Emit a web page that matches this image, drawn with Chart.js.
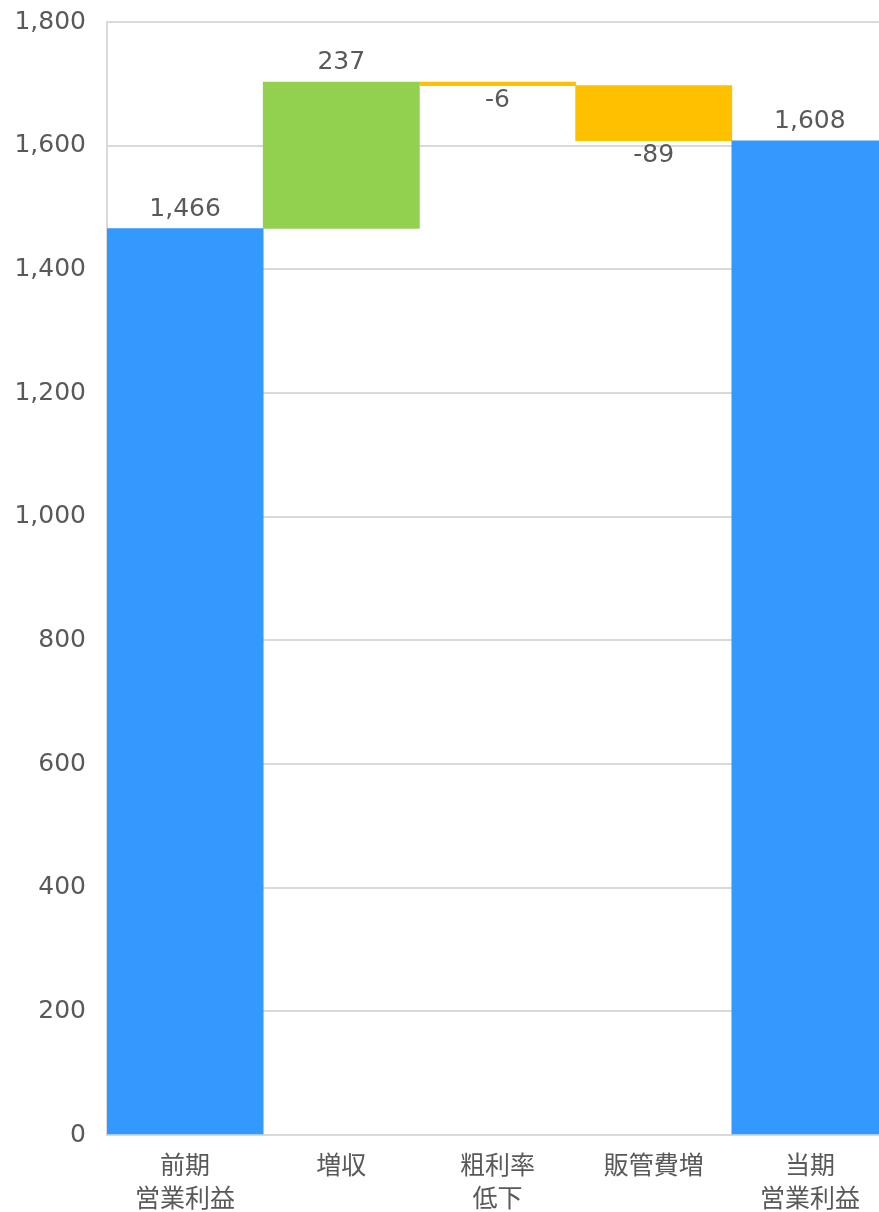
<!DOCTYPE html>
<html>
<head>
<meta charset="utf-8">
<script src="https://cdn.jsdelivr.net/npm/chart.js@4"></script>
<style>
  html, body { margin: 0; padding: 0; background: #fff; overflow: hidden; }
  /* plot area runs a little past the right edge of the window, as in the reference */
  #wrap { width: 888px; height: 1212px; }
</style>
</head>
<body>
<div id="wrap"><canvas id="waterfall"></canvas></div>
<script>
// Chart data
const categories = [['前期', '営業利益'], ['増収'], ['粗利率', '低下'], ['販管費増'], ['当期', '営業利益']];
const values = [1466, 237, -6, -89, 1608];
const kinds = ['total', 'delta', 'delta', 'delta', 'total'];
const yTicks = [0, 200, 400, 600, 800, 1000, 1200, 1400, 1600, 1800];

const COLOR_TOTAL = '#3399FF';
const COLOR_UP = '#92D050';
const COLOR_DOWN = '#FFC000';
const TEXT = '#595959';
const GRID = '#D9D9D9';
const LATIN = 'Verdana, "DejaVu Sans", sans-serif';
const CJK = '"Noto Sans CJK JP", sans-serif';

// Build floating bars from the running total
function buildBars() {
    let running = 0;
    return values.map((v, i) => {
        if (kinds[i] === 'total') {
            running = v;
            return [0, v];
        }
        const start = running;
        running += v;
        return [start, running];
    });
}

function barColor(i) {
    if (kinds[i] === 'total') return COLOR_TOTAL;
    return values[i] >= 0 ? COLOR_UP : COLOR_DOWN;
}

// Value labels above (up / totals) or below (down) each bar
const valueLabels = {
    id: 'valueLabels',
    afterDatasetsDraw(chart) {
        const ctx = chart.ctx;
        const meta = chart.getDatasetMeta(0);
        ctx.save();
        ctx.font = '25px ' + LATIN;
        ctx.fillStyle = TEXT;
        ctx.textAlign = 'center';
        ctx.textBaseline = 'middle';
        meta.data.forEach((bar, i) => {
            const top = Math.min(bar.y, bar.base);
            const bottom = Math.max(bar.y, bar.base);
            const text = values[i].toLocaleString('en-US');
            if (values[i] < 0) {
                ctx.fillText(text, bar.x, bottom + 15);
            } else {
                ctx.fillText(text, bar.x, top - 19);
            }
        });
        ctx.restore();
    }
};

new Chart(document.getElementById('waterfall'), {
    type: 'bar',
    data: {
        labels: categories,
        datasets: [{
            data: buildBars(),
            backgroundColor: values.map((v, i) => barColor(i)),
            borderWidth: 0,
            barPercentage: 1,
            categoryPercentage: 1
        }]
    },
    options: {
        responsive: true,
        maintainAspectRatio: false,
        animation: false,
        layout: { padding: { top: 22, right: 0, left: 0, bottom: 0 } },
        plugins: {
            legend: { display: false },
            tooltip: { enabled: false }
        },
        scales: {
            x: {
                afterFit(scale) {
                    scale.height = 77;
                    scale.paddingLeft = 0;
                    scale.paddingRight = 0;
                },
                grid: { display: false, drawTicks: false },
                border: { color: GRID, width: 2 },
                ticks: {
                    color: TEXT,
                    font: { family: CJK, size: 25, lineHeight: 1.32 },
                    padding: 13,
                    maxRotation: 0
                }
            },
            y: {
                min: 0,
                max: 1800,
                afterBuildTicks(scale) {
                    scale.ticks = yTicks.map(v => ({ value: v }));
                },
                afterFit(scale) {
                    scale.width = 107;
                    scale.paddingTop = 0;
                    scale.paddingBottom = 0;
                },
                grid: { color: GRID, lineWidth: 2, drawTicks: false },
                border: { color: GRID, width: 2 },
                ticks: {
                    color: TEXT,
                    font: { family: LATIN, size: 25 },
                    padding: 21,
                    callback: v => v.toLocaleString('en-US')
                }
            }
        }
    },
    plugins: [valueLabels]
});
</script>
</body>
</html>
